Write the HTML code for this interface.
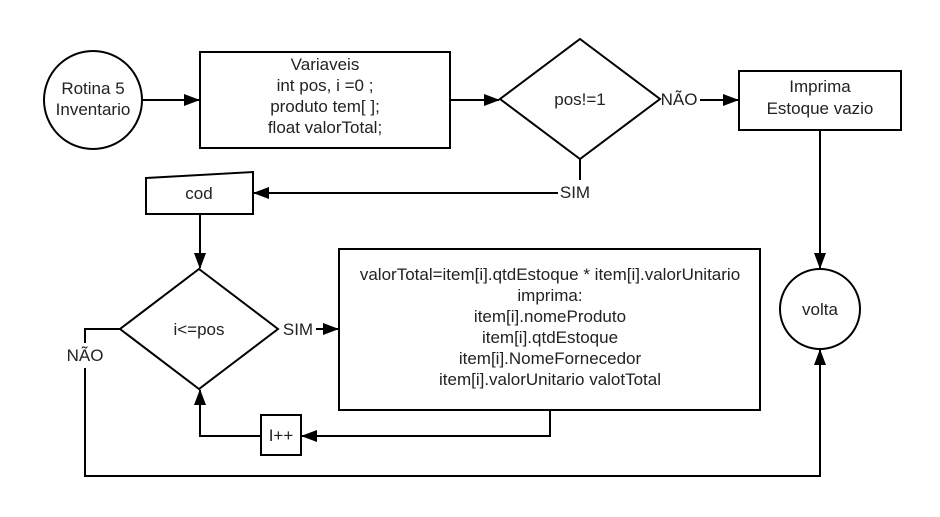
<!DOCTYPE html>
<html><head><meta charset="utf-8"><style>
html,body{margin:0;padding:0;background:#fff;}
svg{display:block;}
text{font-family:"Liberation Sans",sans-serif;font-size:17px;fill:#222;}
</style></head><body>
<svg width="940" height="517" viewBox="0 0 940 517" xmlns="http://www.w3.org/2000/svg">
<defs><marker id="a" markerWidth="16" markerHeight="12" refX="15" refY="6" orient="auto" markerUnits="userSpaceOnUse"><path d="M0,0 L16,6 L0,12 Z" fill="#000"/></marker></defs>
<g fill="none" stroke="#000" stroke-width="2">
<circle cx="93" cy="100" r="49" fill="#fff"/>
<rect x="200" y="52" width="250" height="96" fill="#fff"/>
<polygon points="580,39 660,99 580,159 500,99" fill="#fff"/>
<rect x="739" y="71" width="162" height="59" fill="#fff"/>
<circle cx="820" cy="309" r="40" fill="#fff"/>
<polygon points="146,178 253,172 253,214 146,214" fill="#fff"/>
<polygon points="199,269 278,329 199,389 120,329" fill="#fff"/>
<rect x="339" y="249" width="421" height="161" fill="#fff"/>
<rect x="261" y="415" width="40" height="40" fill="#fff"/>
<line x1="142" y1="100" x2="199" y2="100" marker-end="url(#a)"/>
<line x1="450" y1="100" x2="499" y2="100" marker-end="url(#a)"/>
<line x1="700" y1="100" x2="738" y2="100" marker-end="url(#a)"/>
<line x1="820" y1="130" x2="820" y2="268" marker-end="url(#a)"/>
<polyline points="580,159 580,180"/>
<line x1="558" y1="193" x2="254" y2="193" marker-end="url(#a)"/>
<line x1="200" y1="214" x2="200" y2="268" marker-end="url(#a)"/>
<line x1="316" y1="329" x2="338" y2="329" marker-end="url(#a)"/>
<polyline points="550,410 550,436 302,436" marker-end="url(#a)"/>
<polyline points="261,436 200,436 200,390" marker-end="url(#a)"/>
<polyline points="120,329 85,329 85,343"/>
<polyline points="85,368 85,476 820,476 820,350" marker-end="url(#a)"/>
</g>
<g text-anchor="middle">
<text x="93" y="94">Rotina 5</text>
<text x="93" y="115">Inventario</text>
<text x="325" y="70">Variaveis</text>
<text x="325" y="91">int pos, i =0 ;</text>
<text x="325" y="112">produto tem[ ];</text>
<text x="325" y="133">float valorTotal;</text>
<text x="580" y="105">pos!=1</text>
<text x="679" y="105">NÃO</text>
<text x="820" y="92">Imprima</text>
<text x="820" y="114">Estoque vazio</text>
<text x="575" y="198">SIM</text>
<text x="199" y="199">cod</text>
<text x="199" y="335">i&lt;=pos</text>
<text x="298" y="335">SIM</text>
<text x="85" y="361">NÃO</text>
<text x="820" y="315">volta</text>
<text x="281" y="441">I++</text>
<text x="550" y="280">valorTotal=item[i].qtdEstoque * item[i].valorUnitario</text>
<text x="550" y="301">imprima:</text>
<text x="550" y="322">item[i].nomeProduto</text>
<text x="550" y="343">item[i].qtdEstoque</text>
<text x="550" y="364">item[i].NomeFornecedor</text>
<text x="550" y="385">item[i].valorUnitario valotTotal</text>
</g>
</svg>
</body></html>
